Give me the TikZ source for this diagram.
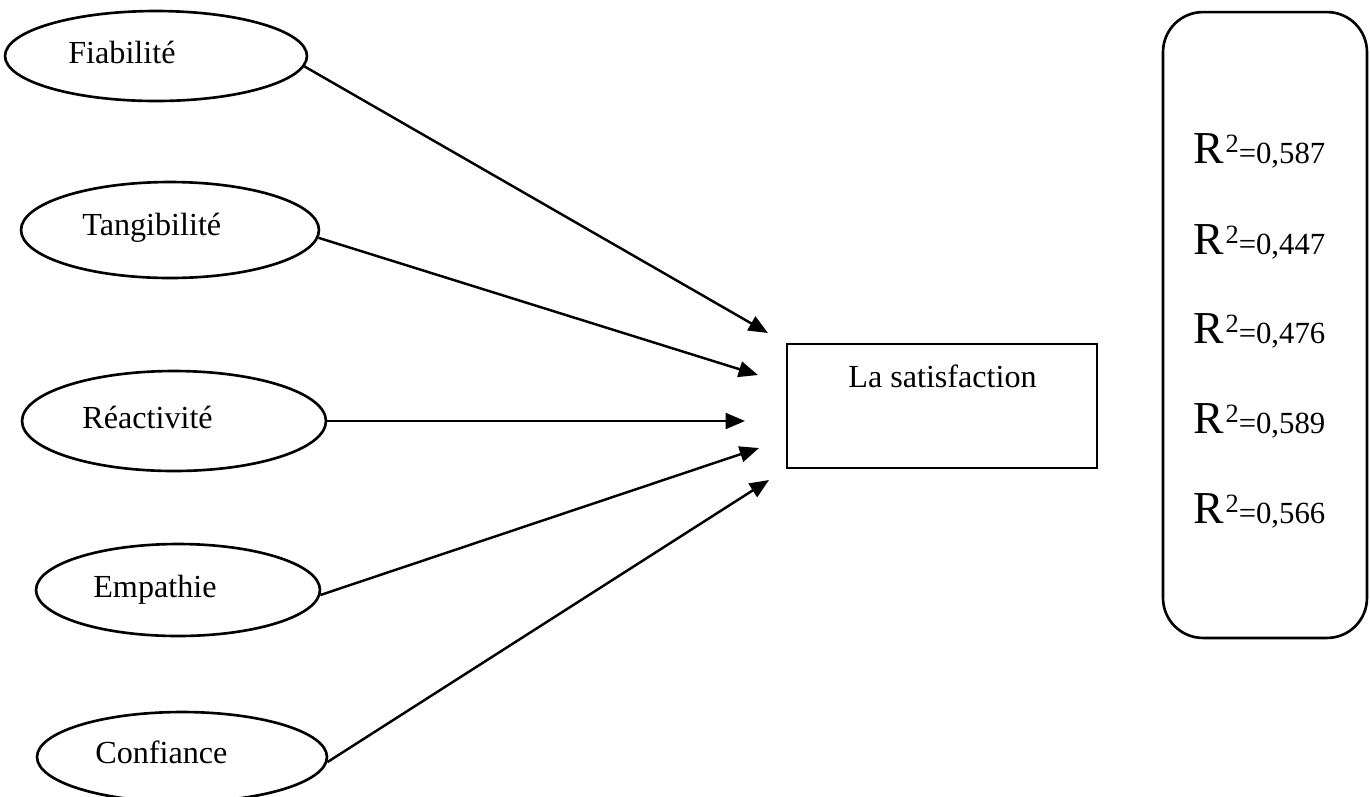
\documentclass[tikz,border=0pt]{standalone}
\usepackage{fontspec}
\setmainfont{Liberation Serif}
\usetikzlibrary{shapes.geometric,arrows.meta}

\tikzset{
  factor/.style={draw, ellipse, line width=1.5pt, inner sep=0pt},
  lbl/.style={anchor=base west, inner sep=0pt, font=\fontsize{18.3}{21}\selectfont},
  link/.style={line width=1.4pt, -{Triangle[length=11pt,width=9pt]}},
  outcome/.style={draw, rectangle, line width=1.6pt, inner sep=0pt,
                  minimum width=6.2cm, minimum height=2.48cm},
  rbox/.style={draw, rectangle, rounded corners=0.8cm, line width=1.5pt,
               inner sep=0pt, minimum width=4.08cm, minimum height=12.52cm},
}
\newcommand{\rsq}[1]{{\fontsize{26}{28}\selectfont R}\kern1pt\raisebox{6pt}{\fontsize{15}{17}\selectfont 2}{\fontsize{17.5}{19}\selectfont =#1}}

\begin{document}
\begin{tikzpicture}[x=0.02cm, y=-0.02cm]
  \useasboundingbox (0,0) rectangle (1370,796);
  \clip (0,0) rectangle (1370,796);

  % explanatory factors
  \node[factor, minimum width=6.04cm, minimum height=1.8cm]  (e1) at (156,56)  {};
  \node[factor, minimum width=5.96cm, minimum height=1.92cm] (e2) at (170,230) {};
  \node[factor, minimum width=6.08cm, minimum height=2.0cm]  (e3) at (174,421) {};
  \node[factor, minimum width=5.68cm, minimum height=1.84cm] (e4) at (178,590) {};
  \node[factor, minimum width=5.8cm,  minimum height=1.8cm]  (e5) at (182,757) {};

  \node[lbl] (l1) at (68,63)  {Fiabilité};
  \node[lbl] (l2) at (82,235) {Tangibilité};
  \node[lbl] (l3) at (82,428) {Réactivité};
  \node[lbl] (l4) at (93,597) {Empathie};
  \node[lbl] (l5) at (95,763) {Confiance};

  % dependent variable
  \node[outcome] (sat) at (942,406) {};
  \node[lbl] (lsat) at (848,387) {La satisfaction};

  % arrow tips
  \coordinate (t1) at (768,333);
  \coordinate (t2) at (758,375);
  \coordinate (t3) at (745,421);
  \coordinate (t4) at (759,448);
  \coordinate (t5) at (769,480);

  \draw[link] (e1.-4.5) -- (t1);
  \draw[link] (e2.-3)   -- (t2);
  \draw[link] (e3.0)    -- (t3);
  \draw[link] (e4.-2)   -- (t4);
  \draw[link] (e5.-2)   -- (t5);

  % R-squared panel
  \node[rbox] (panel) at (1265,325) {};
  \node[anchor=base west, inner sep=0pt] (r1) at (1193,163) {\rsq{0,587}};
  \node[anchor=base west, inner sep=0pt] (r2) at (1193,254) {\rsq{0,447}};
  \node[anchor=base west, inner sep=0pt] (r3) at (1193,343) {\rsq{0,476}};
  \node[anchor=base west, inner sep=0pt] (r4) at (1193,433) {\rsq{0,589}};
  \node[anchor=base west, inner sep=0pt] (r5) at (1193,523) {\rsq{0,566}};
\end{tikzpicture}
\end{document}
